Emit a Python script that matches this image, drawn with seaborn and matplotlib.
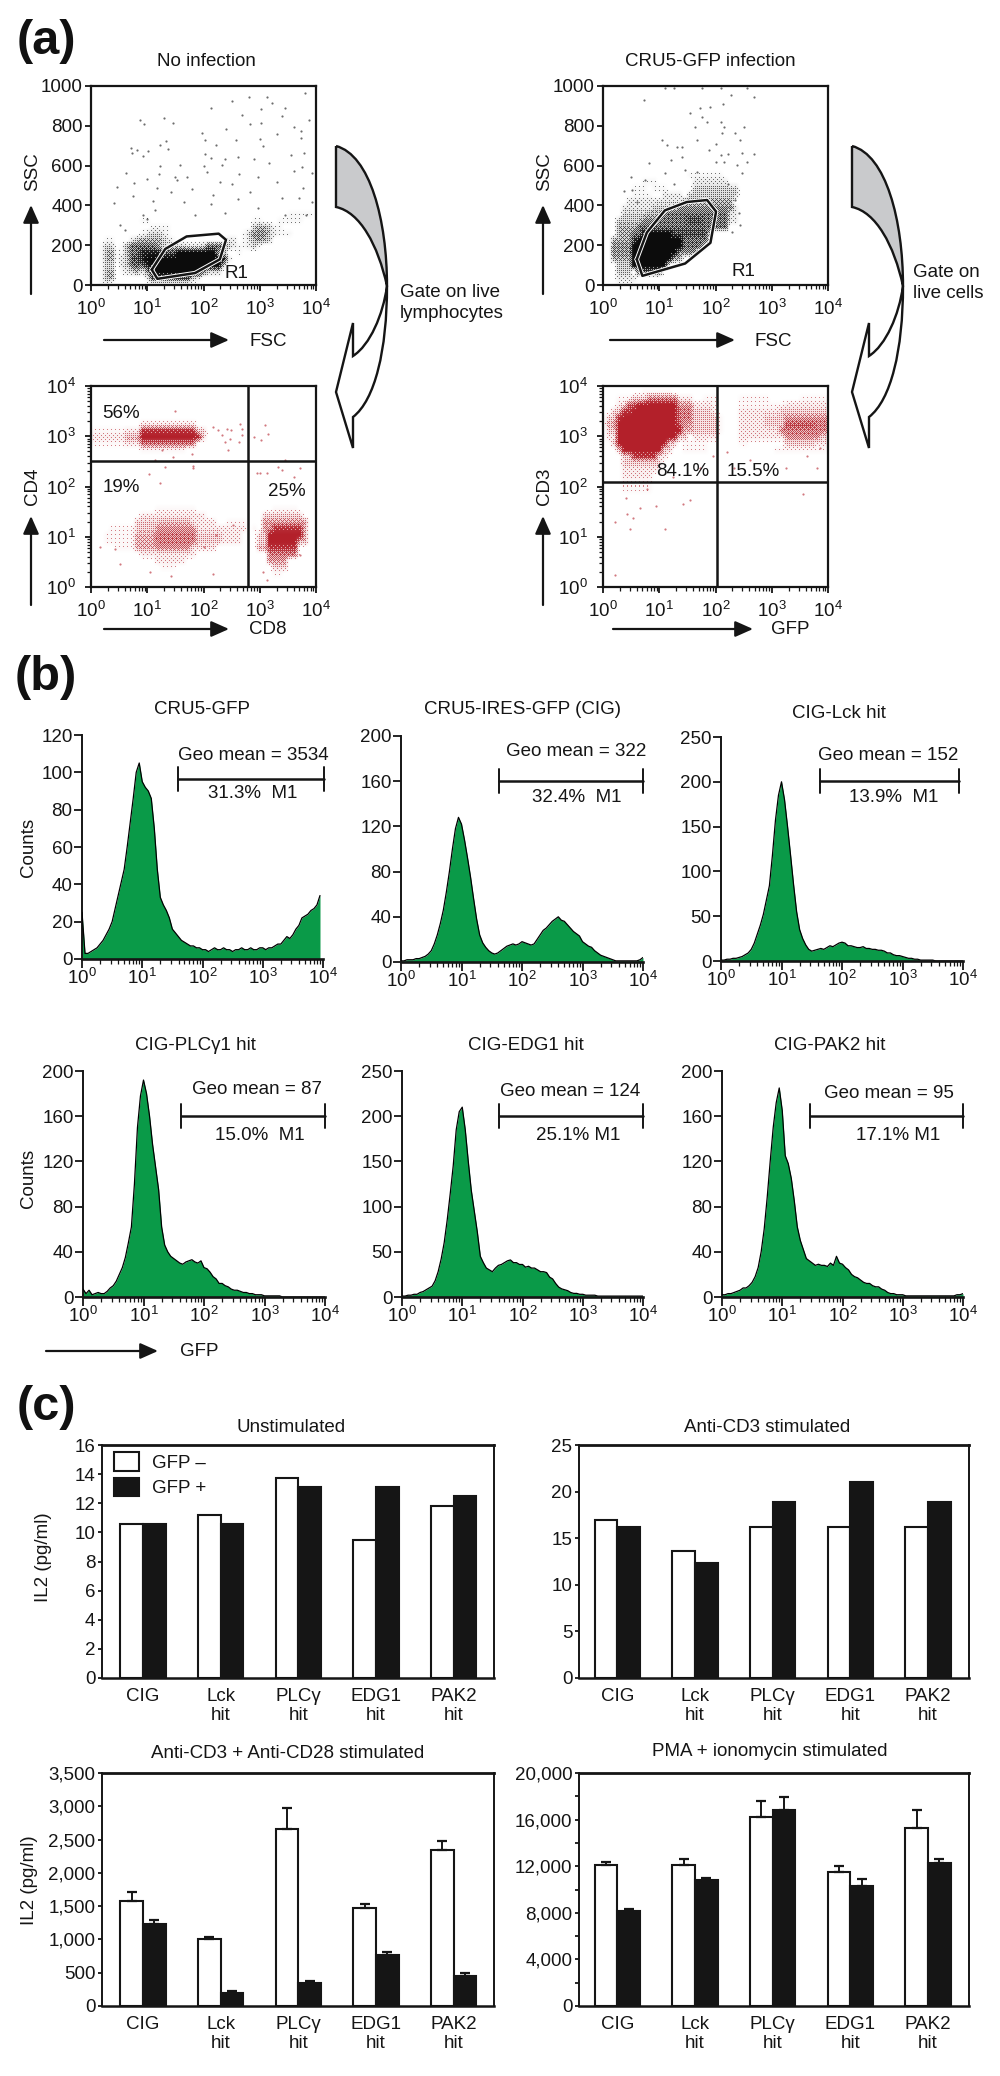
import numpy as np
import pandas as pd
import seaborn as sns
import matplotlib
matplotlib.use("Agg")
import matplotlib.pyplot as plt
from matplotlib.colors import LinearSegmentedColormap
from matplotlib.patches import PathPatch
from matplotlib.path import Path
from matplotlib.ticker import FixedLocator, FuncFormatter, LogLocator, NullFormatter

# histogram counts, read every 0.05 decade starting at 10^0
cru5_gfp = [25,3,3,4,5,6,8,10,13,16,20,27,34,41,48,60,73,86,100,105,
            95,92,90,86,70,48,33,29,26,22,16,14,12,10,9,8,7,7,6,6,
            5,5,4,5,6,5,5,6,5,5,4,5,5,6,5,5,6,5,5,6,
            6,5,6,6,7,8,8,10,12,11,13,16,18,22,23,24,26,27,29,34]
cig = [1,1,2,2,2,3,3,4,5,7,10,16,24,34,46,62,80,100,118,128,
       122,108,92,75,56,38,24,17,13,10,8,7,8,10,12,14,15,16,15,16,
       18,17,16,15,16,20,24,28,30,33,36,38,40,37,36,33,30,27,25,23,
       18,16,14,13,10,8,6,5,4,3,2,1,1,1,1,1,1,1,1,2,4]
cig_lck = [1,1,2,2,3,3,4,5,7,9,13,20,30,40,52,68,84,118,157,185,
           200,180,150,118,85,55,35,25,18,13,11,12,13,14,13,15,17,16,18,20,
           21,20,17,17,16,15,15,16,14,14,13,13,12,12,11,9,9,7,6,6,
           5,4,3,3,2,2,1,1,1,1,1,0,0,0,0,0,0,0,0,0,0]
cig_plc = [7,3,6,2,3,4,3,3,5,8,10,14,20,26,35,48,62,100,150,178,
           192,180,160,135,115,95,62,46,40,36,34,32,30,29,31,32,33,31,30,32,
           26,25,22,18,16,12,12,10,9,7,6,6,5,4,4,3,3,2,2,2,
           1,1,1,1,1,1,0,0,0,0,0,0,0,0,0,0,0,0,0,0,0]
cig_edg = [1,1,2,2,3,3,5,6,8,10,12,18,28,42,60,85,114,145,185,205,
           210,185,150,118,95,72,45,38,32,30,28,32,35,36,38,40,41,38,38,36,
           36,33,34,32,32,30,28,28,27,22,20,15,11,9,8,7,5,4,4,3,
           3,2,2,2,2,1,1,1,1,1,1,1,1,1,1,1,1,1,1,1,1]
cig_pak = [2,2,3,3,4,5,6,8,8,10,13,18,26,40,60,88,120,150,172,185,
           165,125,118,105,85,62,50,42,34,32,30,28,29,28,28,27,30,28,36,30,
           29,26,24,20,18,17,15,13,12,12,10,9,9,7,6,4,3,3,2,2,
           2,1,1,1,1,1,1,1,1,1,1,1,1,1,1,1,1,1,2,2,3]

# IL2 bars
hits = ["CIG", "Lck\nhit", "PLCγ\nhit", "EDG1\nhit", "PAK2\nhit"]
unstim_neg = [10.6, 11.2, 13.7, 9.5, 11.8]
unstim_pos = [10.6, 10.6, 13.1, 13.1, 12.5]
cd3_neg = [16.9, 13.6, 16.2, 16.2, 16.2]
cd3_pos = [16.2, 12.3, 18.9, 21.0, 18.9]
cd28_neg = [1580, 1000, 2660, 1470, 2350]
cd28_pos = [1230, 190, 340, 770, 450]
cd28_neg_err = [130, 40, 320, 60, 130]
cd28_pos_err = [60, 30, 40, 40, 50]
pma_neg = [12100, 12100, 16200, 11500, 15300]
pma_pos = [8150, 10850, 16800, 10300, 12300]
pma_neg_err = [300, 500, 1400, 500, 1500]
pma_pos_err = [150, 150, 1100, 600, 300]

# gates, log10 FSC and SSC
r1_none_x = [1.08, 1.18, 1.85, 2.29, 2.40, 2.27, 1.70, 1.32]
r1_none_y = [77, 31, 60, 129, 227, 258, 244, 181]
r1_cru5_x = [0.60, 0.70, 1.46, 1.91, 2.01, 1.85, 1.49, 1.10, 0.78]
r1_cru5_y = [129, 46, 108, 212, 369, 427, 417, 375, 264]

# cloud density, 0 to 9, top row first (45 x 32 cells)
none_density = [""] * 20 + [
    "000000000000000000000000000000000000000111110",
    "000000000011000000000000000000001100011111000",
    "000000000000111100000000000000003443110000000",
    "000000000012332100000000000000135553211100000",
    "000110002344443210000000000220124543000000000",
    "001330146666653333322236666321123100000000000",
    "001441146688887779999999955001000000000000000",
    "001441237789999999999999999200000000000000000",
    "001330236668999999999999993000000000000000000",
    "001440123425999999999963330000000000000000000",
    "001440000002777777773200000000000000000000000",
    "001100000000000000000000000000000000000000000",
]
cd8_density = [""] * 6 + [
    "000000000022222222222000000000000000000000000",
    "111111122288888888888330000000000000000000000",
    "222222244499999999999930000000000000000000000",
    "111111122266666666666000000000000000000000000",
    "000000000011111111100000000000000000000000000",
] + [""] * 8 + [
    "000000000000011111111000000000000000111110000",
    "000000000022222222222220000000000033333333000",
    "000000000333334444442222200111100055555555500",
    "000011111333355555555222222222201055888888400",
    "000111111444466666666333332222000339999999400",
    "000111111444466666666333332222000339999994400",
    "000001111444455555552222200000000448888880000",
    "000000000022222222222000000000000006666660000",
    "000000000000022222200000000000000005555000000",
    "000000000000001110000000000000000000333000000",
    "000000000000000000000000000000000000110000000",
]
cru5_density = [""] * 14 + [
    "000000000000000001111111000000000000000000000",
    "000000001110000000222222200000000000000000000",
    "000000111011100000333333333000000000000000000",
    "000000111100222203333333333000000000000000000",
    "000002222222222244444444440000000000000000000",
    "000022222233334555555555552000000000000000000",
    "000033333444566666666666622000000000000000000",
    "000333335556666667776666622000000000000000000",
    "000444466666666666666666600000000000000000000",
    "000444669999997777777300000000000000000000000",
    "004444799999999966666200000000000000000000000",
    "005555999999999966662000000000000000000000000",
    "005555999999999555500000000000000000000000000",
    "004444999999994400000000000000000000000000000",
    "000333999999900000000000000000000000000000000",
    "000333077777000000000000000000000000000000000",
    "000222200000000000000000000000000000000000000",
    "000111000000000000000000000000000000000000000",
]
gfp_density = [""] + [
    "000000001111110000000000000000000000000000000",
    "000111333666666222001110000111111000000111111",
    "000227799999999555222210000111111111222222222",
    "003388999999999666333310000222222223333333333",
    "033899999999999666333331000222223333555555555",
    "044999999999999755333331000222223333777777666",
    "033999999999999944333331000222222226666666665",
    "022999999999999330222220000222222222555555533",
    "003999999999933011111000000110000000333333222",
    "000399999999330011111000000000000011111111111",
    "000033888882200000000000000000000000000000000",
    "000033333333000000000000000000000000000000000",
    "000022222222000000000000000000000000000000000",
    "000022222200000000000000000000000000000000000",
    "000011111100000000000000000000000000000000000",
    "000011111100000000000000000000000000000000000",
]

# single events outside the clouds, log10 x and linear or log10 y
none_dots_x = [3.80,3.12,2.80,2.50,3.21,2.13,3.44,3.03,.87,1.29,.95,1.45,3.88,3.39,2.68,2.83,3.02,3.60,
               2.40,1.98,3.73,3.30,3.73,3.00,2.57,2.03,1.33,1.23,2.23,3.05,.71,.82,1.01,1.36,.72,.93,2.03,
               3.56,3.79,2.13,2.38,2.62,2.89,2.33,1.23,1.58,2.00,3.16,3.75,.63,1.21,1.49,1.70,.99,1.52,2.06,
               2.29,2.63,2.97,3.60,3.92,3.30,.77,1.17,.47,1.43,1.79,2.50,2.83,3.77,.75,.41,1.11,1.65,2.17,
               2.62,3.69,3.39,3.92,1.14,.93,2.14,2.97,3.45,3.83,.52,.60,.99,1.85,2.38]
none_dots_y = [963,943,943,924,917,887,887,882,829,840,807,812,829,849,854,807,812,795,
               783,765,775,758,740,733,728,728,723,706,706,701,690,678,673,681,661,649,658,
               653,664,636,631,641,631,602,597,602,597,611,594,561,556,544,542,532,527,569,
               519,556,544,572,561,519,515,485,490,468,482,510,468,489,448,413,422,415,452,
               430,435,435,418,376,351,405,385,351,351,301,276,331,351,360]
cd8_dots_x = [2.17,2.26,2.41,2.48,2.65,2.68,2.32,2.47,2.38,2.68,2.63,2.44,3.09,3.14,2.89,3.03,1.49,1.31,1.82,
              1.03,3.33,3.39,3.00,3.45,1.14,1.46,1.26,1.79,1.23,1.82,.43,.16,.52,1.05,1.43,2.17,2.00,3.06,
              3.12,3.72,3.60,3.72,3.12,2.23,2.53,2.95]
cd8_dots_y = [3.18,3.12,3.15,3.12,3.25,3.15,3.02,2.95,2.89,3.02,2.89,2.72,3.22,3.05,2.98,2.92,3.50,2.39,2.37,
              2.25,2.39,2.32,2.27,2.53,2.53,2.59,2.72,2.65,2.07,2.40,.75,.79,.46,.29,.21,.25,.79,.29,
              .13,.63,2.19,2.36,2.27,1.04,1.24,2.27]
cru5_dots_x = [.72,1.11,1.26,1.76,2.09,2.56,2.27,2.68,1.91,2.13,1.73,1.54,1.76,1.64,1.85,2.09,2.15,2.50,2.12,2.35,
               1.05,1.14,1.40,1.67,2.00,2.44,1.32,1.88,2.09,2.23,2.47,2.68,1.40,1.20,.81,2.00,2.15,2.38,2.56,
               1.11,1.46,1.67,2.47,.49,.52,.75,1.26,2.23,.37,2.35,2.41,2.44,2.29,.60]
cru5_dots_y = [929,991,991,991,991,991,954,946,896,912,891,862,845,795,820,820,795,795,762,762,
               728,703,695,728,711,728,695,678,653,656,661,656,644,628,611,619,619,602,616,
               561,577,569,561,544,477,527,510,510,472,427,360,301,267,418]
gfp_dots_x = [.41,.21,.48,1.10,.21,3.56,1.43,1.55,.95,.66,.54,.42,.78,1.25,1.72,2.32,3.26,3.80,1.96,2.20,2.61,3.62,3.86]
gfp_dots_y = [1.78,1.29,1.16,1.15,.23,1.85,1.66,1.74,1.62,1.57,1.37,1.45,1.95,2.19,2.36,2.36,2.36,2.36,2.60,2.69,2.52,2.60,2.77]

FS = 13.5
BLACK = "#151515"
GREEN = "#0a9a48"
RED = "#b3202a"
BAYER = np.array([[0, 8, 2, 10], [12, 4, 14, 6], [3, 11, 1, 9], [15, 7, 13, 5]])

sns.set_theme(style="ticks", rc={"axes.linewidth": 1.4, "xtick.major.width": 1.3, "ytick.major.width": 1.3,
                                 "xtick.minor.width": 0.9, "ytick.minor.width": 0.9})
plt.rcParams["font.family"] = ["Liberation Sans", "DejaVu Sans"]
plt.rcParams["font.size"] = FS
plt.rcParams["text.color"] = BLACK
plt.rcParams["axes.edgecolor"] = BLACK
plt.rcParams["xtick.color"] = BLACK
plt.rcParams["ytick.color"] = BLACK

fig = plt.figure(figsize=(10, 20.76), dpi=100)


def panel(left, top, right, bottom):
    return fig.add_axes([left / 1000, 1 - bottom / 2076, (right - left) / 1000, (bottom - top) / 2076])


def log_ticks(axis):
    axis.set_major_locator(LogLocator(base=10, numticks=6))
    axis.set_minor_locator(LogLocator(base=10, subs=np.arange(2, 10), numticks=12))
    axis.set_minor_formatter(NullFormatter())


def density_layer(ax, rows, colour, width, height):
    # fine halftone of the hand read grid, so the clouds stay speckled like the dot plots
    rows = rows + [""] * (32 - len(rows))
    grid = np.array([[int(c) for c in row.ljust(45, "0")[:45]] for row in rows]) / 9
    xi = np.linspace(0, 44, width)
    yi = np.linspace(0, 31, height)
    fine = np.array([np.interp(xi, np.arange(45), r) for r in grid])
    fine = np.array([np.interp(yi, np.arange(32), c) for c in fine.T]).T
    screen = (BAYER + 0.5) / 16
    screen = np.tile(screen, (height // 4 + 1, width // 4 + 1))[:height, :width]
    image = np.clip(0.45 * fine ** 1.2 + 0.55 * (fine ** 1.3 > screen), 0, 1)
    cmap = LinearSegmentedColormap.from_list("cloud", ["white", colour])
    layer = ax.inset_axes([0, 0, 1, 1], zorder=0.5)
    layer.imshow(image, cmap=cmap, vmin=0, vmax=1, aspect="auto", interpolation="nearest")
    layer.axis("off")


def dot_panel(box, rows, dots_x, dots_y, colour, log_y):
    ax = panel(*box)
    density_layer(ax, rows, colour, box[2] - box[0], box[3] - box[1])
    y = 10.0 ** np.array(dots_y) if log_y else dots_y
    sns.scatterplot(x=10.0 ** np.array(dots_x), y=y, s=2.5, color=colour, alpha=0.6, linewidth=0, ax=ax, zorder=3)
    ax.set_xscale("log")
    ax.set_xlim(1, 1e4)
    log_ticks(ax.xaxis)
    if log_y:
        ax.set_yscale("log")
        ax.set_ylim(1, 1e4)
        log_ticks(ax.yaxis)
    else:
        ax.set_ylim(0, 1000)
        ax.set_yticks([0, 200, 400, 600, 800, 1000])
    ax.tick_params(axis="x", labelsize=FS, pad=6, length=4, which="major")
    ax.tick_params(axis="y", labelsize=FS, pad=7 if log_y else 2, length=4, which="major")
    ax.tick_params(length=3, which="minor")
    for s in ax.spines.values():
        s.set_linewidth(1.6)
        s.set_zorder(6)
    return ax


def gate_polygon(ax, xs, ys):
    ax.plot(10.0 ** np.array(xs + xs[:1]), ys + ys[:1], color="white", lw=3.2, zorder=4)
    ax.plot(10.0 ** np.array(xs + xs[:1]), ys + ys[:1], color=BLACK, lw=1.8, zorder=5)


def quadrant(ax, x, y):
    ax.axvline(x, color=BLACK, lw=1.8, zorder=5)
    ax.axhline(y, color=BLACK, lw=1.8, zorder=5)


a1 = dot_panel((91, 86, 316, 285), none_density, none_dots_x, none_dots_y, "#0c0c0c", False)
gate_polygon(a1, r1_none_x, r1_none_y)
a2 = dot_panel((603, 86, 828, 285), cru5_density, cru5_dots_x, cru5_dots_y, "#0c0c0c", False)
gate_polygon(a2, r1_cru5_x, r1_cru5_y)
a3 = dot_panel((91, 386, 316, 587), cd8_density, cd8_dots_x, cd8_dots_y, RED, True)
quadrant(a3, 617, 323)
a4 = dot_panel((603, 386, 828, 587), gfp_density, gfp_dots_x, gfp_dots_y, RED, True)
quadrant(a4, 107, 123)


def hist_panel(box, counts, ymax, yticks):
    ax = panel(*box)
    x = 10.0 ** (np.arange(len(counts)) * 0.05)
    ax.fill_between(x, 0, counts, color=GREEN, lw=0, zorder=2)
    sns.lineplot(x=x, y=counts, color="#000000", lw=0.9, ax=ax, errorbar=None, estimator=None, zorder=3)
    ax.set_xscale("log")
    ax.set_xlim(1, 1e4)
    ax.set_ylim(0, ymax)
    ax.set_yticks(yticks)
    log_ticks(ax.xaxis)
    ax.patch.set_alpha(0)
    sns.despine(ax=ax)
    ax.spines["bottom"].set_linewidth(1.9)
    ax.spines["bottom"].set_zorder(5)
    ax.tick_params(axis="x", labelsize=FS, pad=0, length=6.5, which="major")
    ax.tick_params(axis="y", labelsize=FS, pad=1, length=5.8, which="major")
    ax.tick_params(length=3.6, which="minor")
    return ax


hist_panel((82, 735, 323, 959), cru5_gfp, 120, [0, 20, 40, 60, 80, 100, 120])
hist_panel((401, 736, 643, 962), cig, 200, [0, 40, 80, 120, 160, 200])
hist_panel((721, 737, 963, 961), cig_lck, 250, [0, 50, 100, 150, 200, 250])
hist_panel((83, 1071, 325, 1297), cig_plc, 200, [0, 40, 80, 120, 160, 200])
hist_panel((402, 1071, 643, 1297), cig_edg, 250, [0, 50, 100, 150, 200, 250])
hist_panel((722, 1071, 963, 1297), cig_pak, 200, [0, 40, 80, 120, 160, 200])


def bar_panel(box, neg, pos, ymax, major, xlim, minor=None, neg_err=None, pos_err=None, legend=False, comma=False):
    ax = panel(*box)
    df = pd.DataFrame({"hit": hits * 2, "il2": neg + pos,
                       "gfp": ["GFP –"] * len(hits) + ["GFP +"] * len(hits)})
    sns.barplot(data=df, x="hit", y="il2", hue="gfp", palette={"GFP –": "white", "GFP +": BLACK},
                width=0.585, gap=0, edgecolor=BLACK, linewidth=1.5, legend=legend, errorbar=None, ax=ax)
    if neg_err is not None:
        for cont, errs in zip(ax.containers, (neg_err, pos_err)):
            for bar, e in zip(cont, errs):
                ax.errorbar(bar.get_x() + bar.get_width() / 2, bar.get_height(), yerr=[[0], [e]], color=BLACK,
                            capsize=3.5, elinewidth=1.4, capthick=1.6, zorder=1)
    ax.set_xlim(*xlim)
    ax.set_ylim(0, ymax)
    ax.set_yticks(major)
    if minor is not None:
        ax.yaxis.set_minor_locator(FixedLocator(minor))
    if comma:
        ax.yaxis.set_major_formatter(FuncFormatter(lambda v, _: f"{int(v):,}"))
    ax.set_xlabel("")
    ax.set_ylabel("")
    ax.tick_params(axis="x", length=0, pad=7, labelsize=FS)
    ax.tick_params(axis="y", length=3.2, pad=1.5, labelsize=FS, which="major")
    ax.tick_params(axis="y", length=3.2, which="minor", width=1.3)
    for lab in ax.get_xticklabels():
        lab.set_linespacing(1.2)
        lab.set_va("top")
    ax.spines["top"].set_linewidth(2)
    ax.spines["bottom"].set_linewidth(1.8)
    if legend:
        sns.move_legend(ax, "upper left", bbox_to_anchor=(0.03, 0.97), frameon=False, title=None, fontsize=FS,
                        handlelength=1.35, handleheight=1.15, labelspacing=0.32, borderpad=0, borderaxespad=0,
                        handletextpad=0.7)
    return ax


LEFT_XLIM = (-0.53, 4.52)
RIGHT_XLIM = (-0.494, 4.53)
bar_panel((102, 1445, 494, 1678), unstim_neg, unstim_pos, 16, list(range(0, 17, 2)), LEFT_XLIM, legend=True)
bar_panel((579, 1445, 969, 1678), cd3_neg, cd3_pos, 25, list(range(0, 26, 5)), RIGHT_XLIM)
bar_panel((102, 1773, 494, 2006), cd28_neg, cd28_pos, 3500, list(range(0, 3501, 500)), LEFT_XLIM,
          neg_err=cd28_neg_err, pos_err=cd28_pos_err, comma=True)
bar_panel((579, 1773, 969, 2006), pma_neg, pma_pos, 20000, list(range(0, 20001, 4000)), RIGHT_XLIM,
          minor=list(range(2000, 20000, 4000)), neg_err=pma_neg_err, pos_err=pma_pos_err, comma=True)

# overlay in picture pixels for the labels, arrows and brackets
ov = fig.add_axes([0, 0, 1, 1], zorder=20)
ov.set_xlim(0, 1000)
ov.set_ylim(2076, 0)
ov.axis("off")


def label(x, y, s, **kw):
    kw.setdefault("ha", "center")
    kw.setdefault("va", "center")
    kw.setdefault("fontsize", FS)
    ov.text(x, y, s, **kw)


def arrow(x0, y0, x1, y1):
    ov.annotate("", xy=(x1, y1), xytext=(x0, y0),
                arrowprops=dict(arrowstyle="-|>,head_width=0.32,head_length=0.72", color=BLACK, lw=1.6,
                                shrinkA=0, shrinkB=0, mutation_scale=15))


def gate_arrow(dx):
    grey = [(336, 146), (370, 155), (387, 220), (387, 286), (378, 245), (360, 212), (336, 207), (336, 146)]
    codes = [Path.MOVETO, Path.CURVE4, Path.CURVE4, Path.CURVE4, Path.CURVE4, Path.CURVE4, Path.CURVE4, Path.LINETO]
    ov.add_patch(PathPatch(Path([(x + dx, y) for x, y in grey], codes), fc="#c9cacc", ec=BLACK, lw=1.7))
    white = [(387, 286), (387, 350), (375, 400), (353, 417), (353, 448), (336, 392), (353, 323), (353, 356),
             (370, 345), (383, 315), (387, 286)]
    codes = [Path.MOVETO, Path.CURVE4, Path.CURVE4, Path.CURVE4, Path.LINETO, Path.LINETO, Path.LINETO, Path.LINETO,
             Path.CURVE4, Path.CURVE4, Path.CURVE4]
    ov.add_patch(PathPatch(Path([(x + dx, y) for x, y in white], codes), fc="white", ec=BLACK, lw=1.7))


def bracket(x0, x1, y):
    ov.plot([x0, x1], [y, y], color=BLACK, lw=1.8)
    ov.plot([x0, x0], [y - 12, y + 12], color=BLACK, lw=1.4)
    ov.plot([x1, x1], [y - 12, y + 12], color=BLACK, lw=1.4)


for s, y in [("(a)", 42), ("(b)", 677), ("(c)", 1407)]:
    label(46, y, s, fontsize=35, fontweight="bold", color="#111111")

gate_arrow(0)
gate_arrow(516)

# panel a
label(206, 61, "No infection")
label(710, 61, "CRU5-GFP infection")
label(33, 172, "SSC", rotation=90)
label(545, 172, "SSC", rotation=90)
arrow(31, 294, 31, 205)
arrow(543, 294, 543, 205)
arrow(104, 340, 229, 340)
arrow(610, 340, 735, 340)
label(268, 341, "FSC")
label(773, 341, "FSC")
label(236, 274, "R1")
label(743, 271, "R1")
label(400, 303, "Gate on live\nlymphocytes", ha="left", linespacing=1.25)
label(913, 283, "Gate on\nlive cells", ha="left", linespacing=1.25)
label(33, 486, "CD4", rotation=90)
label(545, 486, "CD3", rotation=90)
arrow(31, 605, 31, 516)
arrow(543, 605, 543, 516)
arrow(104, 629, 229, 629)
arrow(613, 629, 753, 629)
label(268, 629, "CD8")
label(790, 629, "GFP")
label(121, 414, "56%")
label(121, 488, "19%")
label(287, 491, "25%")
label(683, 471, "84.1%")
label(753, 471, "15.5%")

# panel b
label(28, 847, "Counts", rotation=90)
label(28, 1178, "Counts", rotation=90)
label(202, 710, "CRU5-GFP")
label(523, 710, "CRU5-IRES-GFP (CIG)")
label(839, 714, "CIG-Lck hit")
label(195, 1046, "CIG-PLCγ1 hit")
label(526, 1046, "CIG-EDG1 hit")
label(830, 1046, "CIG-PAK2 hit")
label(253, 755, "Geo mean = 3534")
label(576, 751, "Geo mean = 322")
label(888, 756, "Geo mean = 152")
label(257, 1090, "Geo mean = 87")
label(570, 1092, "Geo mean = 124")
label(889, 1093, "Geo mean = 95")
bracket(178, 324, 779)
bracket(499, 643, 781)
bracket(820, 959, 781)
bracket(181, 325, 1116)
bracket(499, 643, 1116)
bracket(810, 963, 1116)
label(253, 794, "31.3%  M1")
label(577, 797, "32.4%  M1")
label(894, 798, "13.9%  M1")
label(260, 1135, "15.0%  M1")
label(578, 1135, "25.1% M1")
label(898, 1135, "17.1% M1")
arrow(46, 1351, 158, 1351)
label(199, 1352, "GFP")

# panel c
label(291, 1428, "Unstimulated")
label(767, 1428, "Anti-CD3 stimulated")
label(288, 1753, "Anti-CD3 + Anti-CD28 stimulated")
label(770, 1751, "PMA + ionomycin stimulated")
label(44, 1557, "IL2 (pg/ml)", rotation=90)
label(30, 1880, "IL2 (pg/ml)", rotation=90)

fig.savefig("out.png", dpi=100)
